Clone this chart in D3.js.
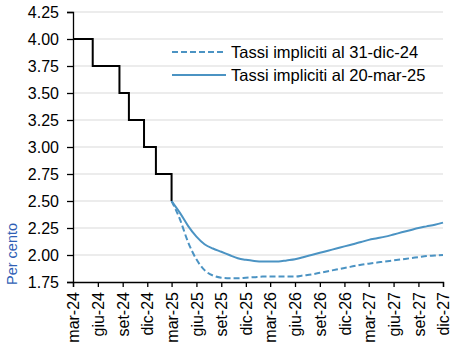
<!DOCTYPE html>
<html>
<head>
<meta charset="utf-8">
<script src="https://cdn.jsdelivr.net/npm/d3@7"></script>
<style>
  body { margin: 0; background: #fff; }
  text { font-family: "Liberation Sans", Arial, sans-serif; }
</style>
</head>
<body>
<div id="chart"></div>
<script>
// policy rate (steps)
var stepDates = ["2024-03-01", "2024-05-13", "2024-08-20", "2024-09-24", "2024-11-19", "2025-01-02", "2025-03-01", "2025-03-01"]
var stepValues = [4.00, 3.75, 3.50, 3.25, 3.00, 2.75, 2.75, 2.50]

// implied rates, monthly from mar-25 to dic-27
var curveMonths = d3.timeMonths(new Date(2025, 2, 1), new Date(2027, 11, 2))
var dec24 = [2.50, 2.33, 2.12, 1.96, 1.86, 1.81, 1.79, 1.785, 1.785, 1.79, 1.795, 1.80,
  1.80, 1.80, 1.80, 1.80, 1.81, 1.82, 1.835, 1.85, 1.865, 1.88, 1.895, 1.91,
  1.92, 1.93, 1.94, 1.95, 1.96, 1.97, 1.98, 1.99, 1.995, 2.00]
var mar25 = [2.50, 2.39, 2.27, 2.17, 2.10, 2.06, 2.03, 2.00, 1.97, 1.955, 1.945, 1.94,
  1.94, 1.94, 1.95, 1.96, 1.98, 2.00, 2.02, 2.04, 2.06, 2.08, 2.10, 2.12,
  2.14, 2.155, 2.17, 2.19, 2.21, 2.23, 2.25, 2.265, 2.28, 2.30]

var legendLabels = ["Tassi impliciti al 31-dic-24", "Tassi impliciti al 20-mar-25"]
var yTicks = [1.75, 2.00, 2.25, 2.50, 2.75, 3.00, 3.25, 3.50, 3.75, 4.00, 4.25]
var monthNames = ["gen", "feb", "mar", "apr", "mag", "giu", "lug", "ago", "set", "ott", "nov", "dic"]

var width = 456, height = 349
var margin = {left: 73, right: 13, top: 12, bottom: 67}
var blue = "#4b93c3"

var svg = d3.select("#chart").append("svg")
  .attr("width", width)
  .attr("height", height)

var x = d3.scaleTime()
  .domain([new Date(2024, 2, 1), new Date(2027, 11, 1)])
  .range([margin.left, width - margin.right])
var y = d3.scaleLinear()
  .domain([1.75, 4.25])
  .range([height - margin.bottom, margin.top])

// grid
svg.append("g")
  .selectAll("line")
  .data(yTicks.slice(1))
  .enter().append("line")
  .attr("x1", margin.left)
  .attr("x2", width - margin.right)
  .attr("y1", function(d) { return y(d) })
  .attr("y2", function(d) { return y(d) })
  .attr("stroke", "#d9d9d9")
  .attr("stroke-width", 1)

// axes
var yAxis = svg.append("g")
  .attr("transform", "translate(" + margin.left + ",0)")
  .call(d3.axisLeft(y).tickValues(yTicks).tickFormat(d3.format(".2f")).tickSize(6).tickPadding(8))
yAxis.selectAll("text").attr("font-size", 16).attr("font-family", "Liberation Sans").attr("fill", "#000")

var xTicks = d3.timeMonths(new Date(2024, 2, 1), new Date(2027, 11, 2), 3)
var xAxis = svg.append("g")
  .attr("transform", "translate(0," + (height - margin.bottom) + ")")
  .call(d3.axisBottom(x).tickValues(xTicks).tickSize(5).tickFormat(function(d) {
    return monthNames[d.getMonth()] + "-" + String(d.getFullYear()).slice(2)
  }))
xAxis.selectAll("text")
  .attr("font-size", 16)
  .attr("font-family", "Liberation Sans")
  .attr("fill", "#000")
  .attr("text-anchor", "end")
  .attr("transform", "rotate(-90)")
  .attr("x", -10)
  .attr("y", 0)
  .attr("dy", "0.35em")
svg.selectAll(".domain, .tick line").attr("stroke", "#000").attr("stroke-width", 1.3)

// step line
var stepData = stepDates.map(function(d, i) { return {date: d3.timeParse("%Y-%m-%d")(d), v: stepValues[i]} })
svg.append("path")
  .datum(stepData)
  .attr("fill", "none")
  .attr("stroke", "#000")
  .attr("stroke-width", 2)
  .attr("d", d3.line().curve(d3.curveStepAfter)
    .x(function(d) { return x(d.date) })
    .y(function(d) { return y(d.v) }))

var curve = d3.line().curve(d3.curveMonotoneX)
  .x(function(d, i) { return x(curveMonths[i]) })
  .y(function(d) { return y(d) })

svg.append("path").datum(dec24)
  .attr("fill", "none").attr("stroke", blue).attr("stroke-width", 2)
  .attr("stroke-dasharray", "6,3")
  .attr("d", curve)
svg.append("path").datum(mar25)
  .attr("fill", "none").attr("stroke", blue).attr("stroke-width", 2)
  .attr("d", curve)

// legend
var legend = svg.append("g")
legendLabels.forEach(function(l, i) {
  var ly = 52 + i * 23
  legend.append("line")
    .attr("x1", 172).attr("x2", 226).attr("y1", ly).attr("y2", ly)
    .attr("stroke", blue).attr("stroke-width", 2)
    .attr("stroke-dasharray", i == 0 ? "6,3" : null)
  legend.append("text")
    .attr("x", 231).attr("y", ly + 6)
    .attr("font-size", 16.5)
    .attr("fill", "#000")
    .text(l)
})

svg.append("text")
  .attr("transform", "translate(17,285) rotate(-90)")
  .attr("font-size", 14.5)
  .attr("fill", "#2f5fb5")
  .text("Per cento")
</script>
</body>
</html>
